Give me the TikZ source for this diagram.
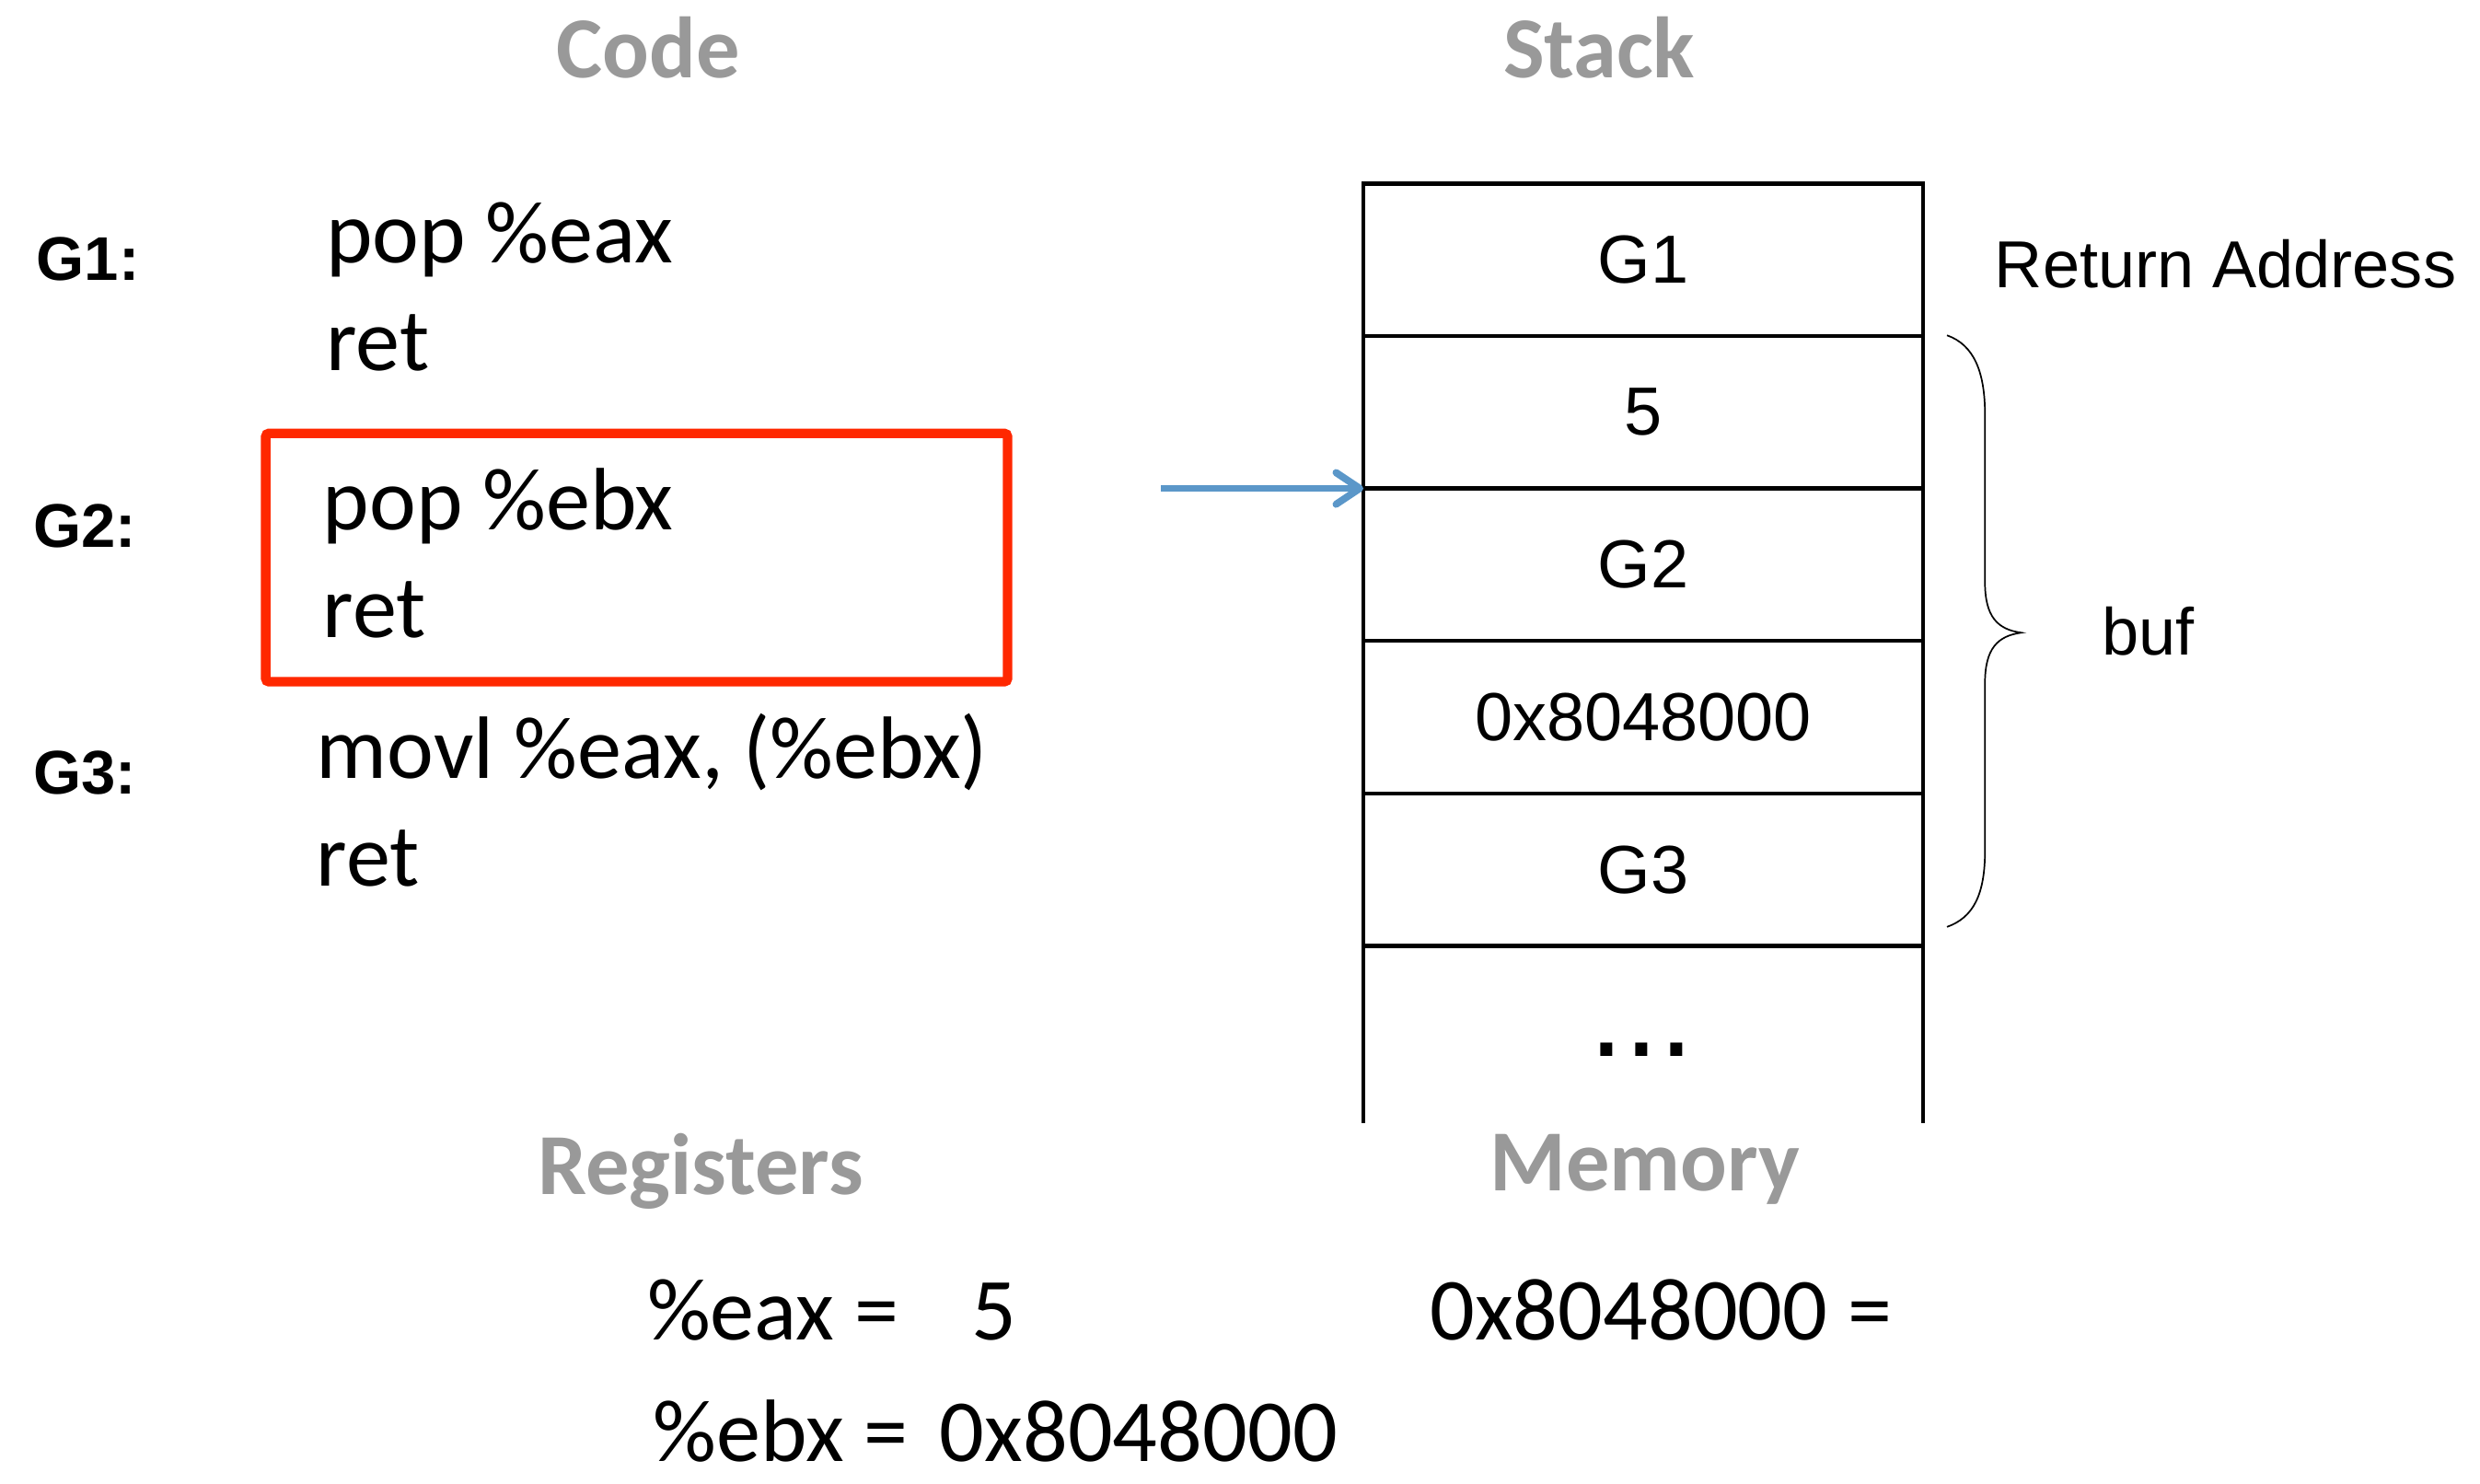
\documentclass[tikz,border=0pt]{standalone}
\usepackage{fontspec}
\setmainfont{Carlito}
\newfontfamily\arialf{Liberation Sans}
\usetikzlibrary{arrows.meta}
\definecolor{headgray}{RGB}{153,153,153}
\definecolor{boxred}{RGB}{255,40,0}
\definecolor{arrowblue}{RGB}{91,151,201}
\tikzset{
  heading/.style={font=\fontsize{55}{60}\selectfont\bfseries, text=headgray, inner sep=0pt, anchor=base},
  codetxt/.style={font=\fontsize{56}{60}\selectfont, inner sep=0pt, anchor=base west},
  glabel/.style={font=\arialf\fontsize{39}{44}\selectfont\bfseries, inner sep=0pt, anchor=base west},
  cell/.style={draw, line width=2.6pt, outer sep=0pt, minimum width=354pt, minimum height=96.4pt, inner sep=0pt, font=\arialf\fontsize{43}{48}\selectfont},
  sidetxt/.style={font=\arialf\fontsize{42}{48}\selectfont, inner sep=0pt, anchor=base west},
  redbox/.style={draw=boxred, line width=6pt, rounded corners=2pt, minimum width=469pt, minimum height=157pt, inner sep=0pt},
  ptr/.style={draw=arrowblue, line width=4.5pt, -{Straight Barb[length=15pt,width=20pt,round]}},
  brace/.style={draw, line width=1pt},
  stackside/.style={line width=2.6pt}
}
\begin{document}
\begin{tikzpicture}[x=1pt,y=-1pt]
\useasboundingbox (0,0) rectangle (1568,938);

% headings
\node[heading] (hcode) at (410,49) {Code};
\node[heading] (hstack) at (1011,49) {Stack};
\node[heading] (hreg) at (443,755) {Registers};
\node[heading] (hmem) at (1040,753) {Memory};

% gadget labels
\node[glabel] (lg1) at (23,177) {G1:};
\node[glabel] (lg2) at (21,346) {G2:};
\node[glabel] (lg3) at (21,502) {G3:};

% code
\node[codetxt] (c1a) at (206,166) {pop \%eax};
\node[codetxt] (c1b) at (206,234) {ret};
\node[codetxt] (c2a) at (204,335) {pop \%ebx};
\node[codetxt] (c2b) at (204,403) {ret};
\node[codetxt] (c3a) at (200,492) {movl \%eax, (\%ebx)};
\node[codetxt] (c3b) at (200,560) {ret};

% red highlight box
\node[redbox] (g2box) at (402.5,352.5) {};

% stack cells
\node[cell] (s1) at (1039,164.2) {G1};
\node[cell] (s2) at (1039,260.6) {5};
\node[cell] (s3) at (1039,357.0) {G2};
\node[cell] (s4) at (1039,453.4) {0x8048000};
\node[cell] (s5) at (1039,549.8) {G3};
\draw[stackside] (s5.south west) -- ++(0,112);
\draw[stackside] (s5.south east) -- ++(0,112);
\node[font=\arialf\fontsize{79}{80}\selectfont, inner sep=0pt, anchor=base] (dots) at (1038,668) {...};

% side labels
\node[sidetxt] (ret) at (1261,182) {Return Address};
\node[sidetxt] (buf) at (1329,414) {buf};
\draw[brace] (1231,212) .. controls (1248,218) and (1255,235) .. (1255,262)
  -- (1255,368) .. controls (1255,390) and (1263,398) .. (1278,400)
  .. controls (1263,402) and (1255,410) .. (1255,432)
  -- (1255,538) .. controls (1255,565) and (1248,580) .. (1231,586);

% pointer arrow
\path (s2.south west) ++(-128,0) coordinate (pstart);
\draw[ptr] (pstart) -- (s2.south west);

% registers and memory
\node[codetxt] (eax) at (409,847) {\%eax =};
\node[codetxt] (eaxv) at (614,847) {5};
\node[codetxt] (ebx) at (413,924) {\%ebx =};
\node[codetxt] (ebxv) at (594,924) {0x8048000};
\node[codetxt] (mem) at (904,847) {0x8048000 =};
\end{tikzpicture}
\end{document}
